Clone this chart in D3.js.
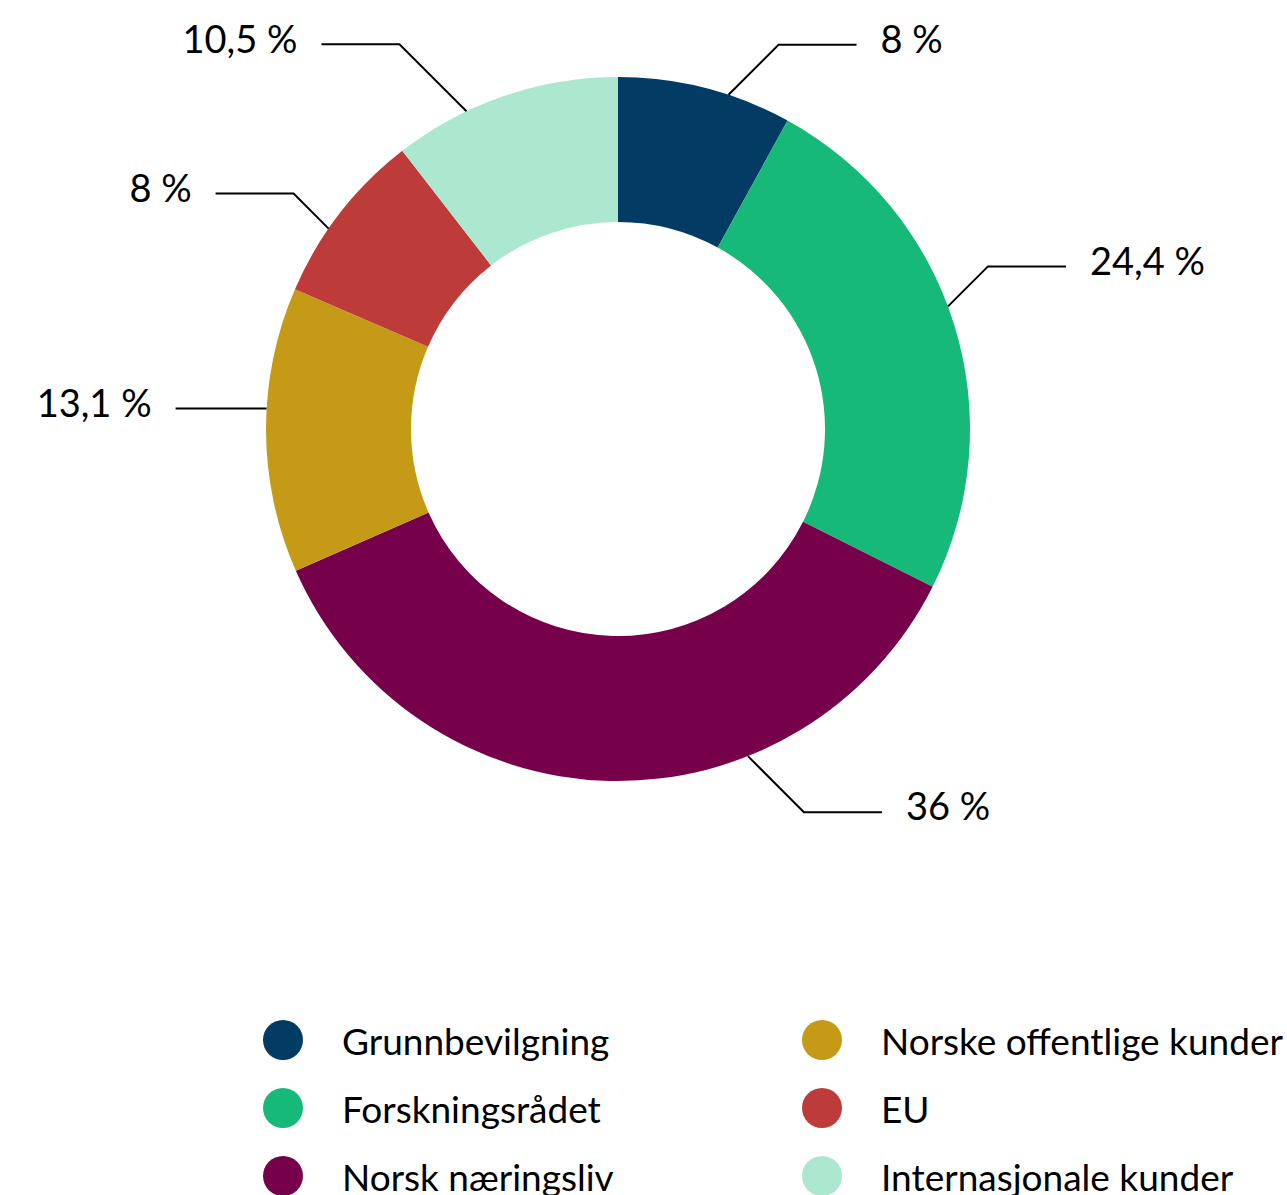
<!DOCTYPE html>
<html>
<head>
<meta charset="utf-8">
<script src="https://cdn.jsdelivr.net/npm/d3@7/dist/d3.min.js"></script>
<style>
  body { margin: 0; background: #fff; }
  text { font-family: Lato, "Open Sans", sans-serif; fill: #000; }
</style>
</head>
<body>
<div id="chart"></div>
<script>
// data
var categories = ["Grunnbevilgning", "Forskningsrådet", "Norsk næringsliv",
    "Norske offentlige kunder", "EU", "Internasjonale kunder"];
var values = [8, 24.4, 36, 13.1, 8, 10.5];
var colors = ["#023c64", "#17b978", "#77004b", "#c59a16", "#bd3c3a", "#ace7cf"];

var width = 1287;
var height = 1195;

var svg = d3.select("#chart")
    .append("svg")
    .attr("width", width)
    .attr("height", height);

var cx = 618, cy = 429,
    outerR = 352, innerR = 207;

var g = svg.append("g").attr("transform", "translate(" + cx + "," + cy + ")");

var color = d3.scaleOrdinal(categories, colors);

var nb = d3.formatLocale({ decimal: ",", thousands: " ", grouping: [3], currency: ["", " kr"] });
var fmt = nb.format(".1~f");

var pie = d3.pie()
    .sort(null)
    .value(function (d) { return d.value; });

var arc = d3.arc()
    .outerRadius(outerR)
    .innerRadius(innerR);

var data = categories.map(function (c, i) { return { name: c, value: values[i] }; });
var arcs = pie(data);

g.selectAll(".slice")
    .data(arcs)
    .enter().append("path")
    .attr("class", "slice")
    .attr("d", arc)
    .attr("fill", function (d) { return color(d.data.name); });

// leader lines, placed like the original (shift from slice middle in degrees, rise of the 45deg part)
var leaderShift = [3.9, -3.1, -23.1, 3.5, -3.1, -6.6];
var leaderRise = [50, 40, -56, 0, 35, 67];
var leaderRun = [78, 78, 78, 91, 78, 78];

arcs.forEach(function (d, i) {
    var a = (d.startAngle + d.endAngle) / 2 + leaderShift[i] * Math.PI / 180;
    var x0 = outerR * Math.sin(a), y0 = -outerR * Math.cos(a);
    var right = Math.sin(a) > 0 ? 1 : -1;
    var rise = leaderRise[i];
    var x1 = x0 + right * Math.abs(rise), y1 = y0 - rise;
    var x2 = x1 + right * leaderRun[i];

    g.append("path")
        .attr("d", "M" + x0 + "," + y0 + "L" + x1 + "," + y1 + "L" + x2 + "," + y1)
        .attr("fill", "none")
        .attr("stroke", "#000")
        .attr("stroke-width", 2);

    g.append("text")
        .attr("x", x2 + right * 24)
        .attr("y", y1 - 5)
        .attr("dy", "0.35em")
        .attr("text-anchor", right > 0 ? "start" : "end")
        .style("font-size", "38px")
        .text(fmt(d.data.value) + " %");
});

// legend
var legend = svg.append("g").attr("class", "legend");
var rowY = d3.scalePoint().domain([0, 1, 2]).range([1040, 1176]);
var colX = [283, 822];

var item = legend.selectAll(".item")
    .data(categories)
    .enter().append("g")
    .attr("class", "item")
    .attr("transform", function (d, i) {
        return "translate(" + colX[Math.floor(i / 3)] + "," + rowY(i % 3) + ")";
    });

item.append("circle")
    .attr("r", 20)
    .attr("fill", function (d) { return color(d); });

item.append("text")
    .attr("x", 59)
    .attr("y", 2)
    .attr("dy", "0.35em")
    .style("font-size", "37px")
    .text(function (d) { return d; });
</script>
</body>
</html>
